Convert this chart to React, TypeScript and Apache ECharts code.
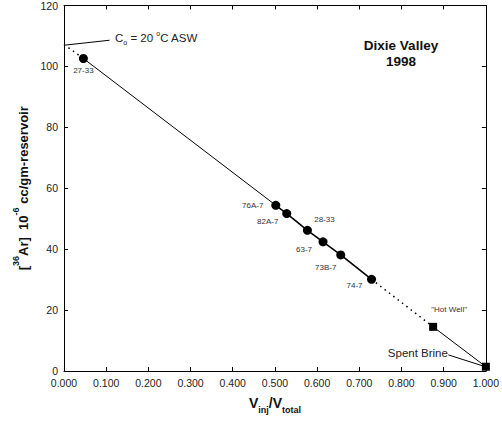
import React, { useEffect, useRef } from "react";
import * as echarts from "echarts";

const wellNames = ["27-33", "76A-7", "82A-7", "28-33", "63-7", "73B-7", "74-7"];
const wellX = [0.046, 0.502, 0.528, 0.577, 0.614, 0.656, 0.729];
const wellY = [102.6, 54.4, 51.7, 46.2, 42.4, 38.1, 30.1];
const labelOffsets = [[0, 12], [-23, 0], [-19, 8], [17, -11], [-19, 8], [-15, 13], [-17, 6]];

const endNames = ['"Hot Well"', "Spent Brine"];
const endX = [0.875, 1.0];
const endY = [14.5, 1.4];

const asw = [0.0, 107.2];
const aswLeader = [[0.003, 107.0], [0.108, 108.6]];
const brineLeader = [[0.911, 5.3], [0.992, 1.7]];

const xTicks = { min: 0, max: 1, interval: 0.1 };
const yTicks = { min: 0, max: 120, interval: 20 };

export default function App() {
  const ref = useRef<HTMLDivElement>(null);
  useEffect(() => {
    const chart = echarts.init(ref.current!, null, { renderer: "svg" });
    const font = "Liberation Sans, Arial, sans-serif";
    const black = "#000";
    const wellPts = wellX.map((x, i) => [x, wellY[i]]);
    const frameAxis = {
      axisLine: { show: true, onZero: false, lineStyle: { color: black, width: 1 } },
      axisTick: { show: true, inside: true, length: 4, lineStyle: { color: black } },
      splitLine: { show: false },
    };
    const option: any = {
      animation: false,
      textStyle: { fontFamily: font },
      grid: { left: 64, right: 16, top: 5, bottom: 52 },
      xAxis: [
        {
          type: "value", ...xTicks, ...frameAxis, position: "bottom",
          axisLabel: { color: "#222", fontSize: 10.5, formatter: (v: number) => v.toFixed(3), margin: 6 },
          name: "{b|V}{s|inj}{b|/V}{s|total}",
          nameLocation: "middle",
          nameGap: 25,
          nameTextStyle: {
            rich: {
              b: { fontSize: 14, fontWeight: "bold", color: "#111", fontFamily: font, lineHeight: 18, verticalAlign: "top" },
              s: { fontSize: 9, fontWeight: "bold", color: "#111", fontFamily: font, verticalAlign: "bottom", lineHeight: 18 },
            },
          },
        },
        {
          type: "value", ...xTicks, ...frameAxis, position: "top",
          axisLabel: { show: false },
        },
      ],
      yAxis: [
        {
          type: "value", ...yTicks, ...frameAxis, position: "left",
          axisLabel: { color: "#222", fontSize: 10.5, margin: 6 },
          name: "{b|[}{p|36}{b|Ar]  10}{p|-6}{b| cc/gm-reservoir}",
          nameLocation: "middle",
          nameRotate: 90,
          nameGap: 28,
          nameTextStyle: {
            rich: {
              b: { fontSize: 13, fontWeight: "bold", color: "#111", fontFamily: font, lineHeight: 18, verticalAlign: "bottom" },
              p: { fontSize: 9, fontWeight: "bold", color: "#111", fontFamily: font, lineHeight: 18, verticalAlign: "top" },
            },
          },
        },
        {
          type: "value", ...yTicks, ...frameAxis, position: "right",
          axisLabel: { show: false },
        },
      ],
      series: [
        {
          type: "line", symbol: "none", silent: true,
          data: [asw, wellPts[0]],
          lineStyle: { color: black, width: 1.5, type: [1.5, 4] },
        },
        {
          type: "line", symbol: "none", silent: true,
          data: [wellPts[0], wellPts[1]],
          lineStyle: { color: black, width: 1 },
        },
        {
          type: "line", symbol: "none", silent: true,
          data: wellPts.slice(1),
          lineStyle: { color: black, width: 1.6 },
        },
        {
          type: "line", symbol: "none", silent: true,
          data: [wellPts[wellPts.length - 1], [endX[0], endY[0]]],
          lineStyle: { color: black, width: 1.5, type: [1.5, 4] },
        },
        {
          type: "line", symbol: "none", silent: true,
          data: [[endX[0], endY[0]], [endX[1], endY[1]]],
          lineStyle: { color: black, width: 1 },
        },
        {
          type: "line", symbol: "none", silent: true,
          data: aswLeader,
          lineStyle: { color: black, width: 1 },
        },
        {
          type: "line", symbol: "none", silent: true,
          data: brineLeader,
          lineStyle: { color: black, width: 1 },
        },
        {
          type: "scatter", symbol: "circle", symbolSize: 9,
          itemStyle: { color: black, opacity: 1 },
          data: wellNames.map((n, i) => ({
            name: n,
            value: [wellX[i], wellY[i]],
            label: {
              show: true, formatter: n, position: "inside",
              offset: labelOffsets[i], color: "#333", fontSize: 8, fontFamily: font,
            },
          })),
        },
        {
          type: "scatter", symbol: "rect", symbolSize: 8,
          itemStyle: { color: black, opacity: 1 },
          data: [
            {
              name: endNames[0], value: [endX[0], endY[0]],
              label: { show: true, formatter: endNames[0], position: "inside", offset: [16, -17], color: "#333", fontSize: 8, fontFamily: font },
            },
            {
              name: endNames[1], value: [endX[1], endY[1]],
              label: { show: true, formatter: endNames[1], position: "inside", offset: [-68, -14], color: "#222", fontSize: 11.5, fontFamily: font },
            },
          ],
        },
      ],
      graphic: [
        {
          type: "text", left: 115, top: 30,
          style: {
            text: "{n|C}{sub|o}{n| = 20 }{sup|o}{n|C ASW}",
            rich: {
              n: { fontSize: 11.5, fill: "#222", fontFamily: font, lineHeight: 16, verticalAlign: "middle" },
              sub: { fontSize: 7, fill: "#222", fontFamily: font, lineHeight: 16, verticalAlign: "bottom" },
              sup: { fontSize: 7, fill: "#222", fontFamily: font, lineHeight: 16, verticalAlign: "top" },
            },
          },
        },
        {
          type: "text", x: 401, y: 37,
          style: {
            text: "Dixie Valley\n1998", fontSize: 13.5, fontWeight: "bold", fill: "#111",
            fontFamily: font, align: "center", lineHeight: 16,
          },
        },
      ],
    };
    chart.setOption(option);
    return () => chart.dispose();
  }, []);
  return (
    <div
      ref={ref}
      style={{ position: "absolute", left: 0, top: 0, width: 502, height: 423, background: "#fff" }}
    />
  );
}
